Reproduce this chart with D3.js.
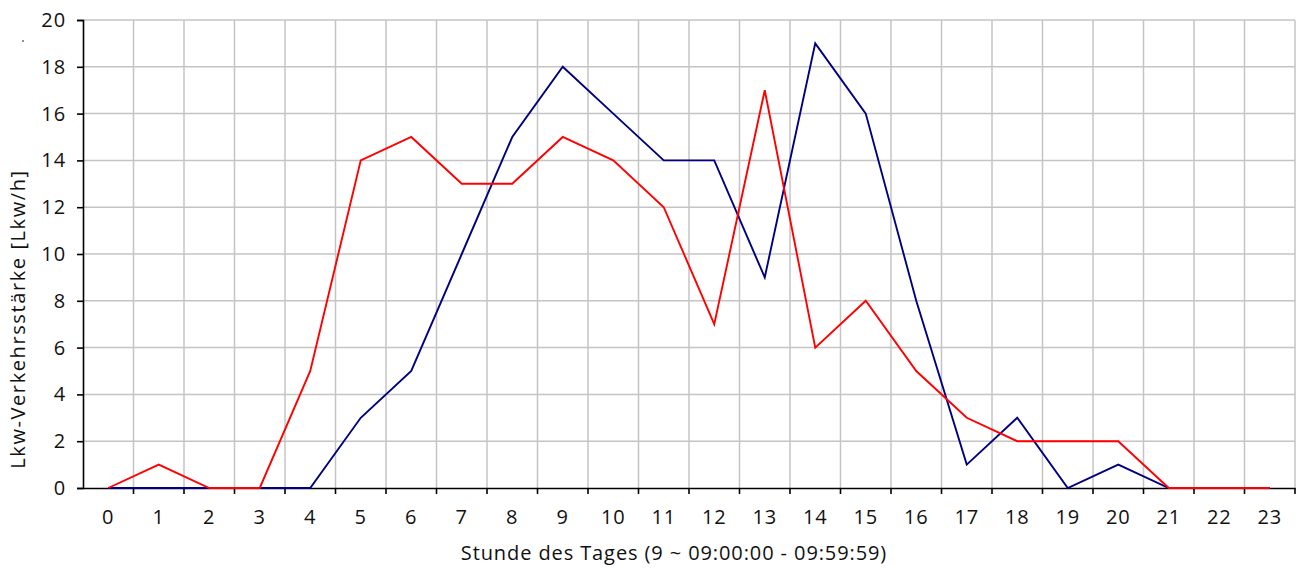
<!DOCTYPE html>
<html>
<head>
<meta charset="utf-8">
<script src="https://cdn.jsdelivr.net/npm/d3@7"></script>
<style>
  body { margin: 0; background: #fff; }
  text { font-family: "Open Sans", sans-serif; fill: #111; letter-spacing: 0.9px; }
</style>
</head>
<body>
<svg width="1304" height="568"></svg>
<script>
var hours = d3.range(0, 24).map(String);
var yTicks = [0, 2, 4, 6, 8, 10, 12, 14, 16, 18, 20];
var redValues = [0, 1, 0, 0, 5, 14, 15, 13, 13, 15, 14, 12, 7, 17, 6, 8, 5, 3, 2, 2, 2, 0, 0, 0];
var blueValues = [0, 0, 0, 0, 0, 3, 5, 10, 15, 18, 16, 14, 14, 9, 19, 16, 8, 1, 3, 0, 1, 0, 0, 0];
var xTitle = "Stunde des Tages (9 ~ 09:00:00 - 09:59:59)";
var yTitle = "Lkw-Verkehrsstärke [Lkw/h]";

var svg = d3.select("svg");
var plotL = 83, plotR = 1295, plotT = 20, plotB = 488;

var x = d3.scaleBand().domain(hours).range([plotL, plotR]);
var y = d3.scaleLinear().domain([0, 20]).range([plotB, plotT]);

// grid
var grid = svg.append("g").attr("stroke", "#c4c4c4").attr("stroke-width", 1.5);
grid.selectAll(".hg").data(yTicks.slice(1)).enter().append("line")
    .attr("x1", plotL).attr("x2", plotR)
    .attr("y1", function(d) { return y(d); }).attr("y2", function(d) { return y(d); });
grid.selectAll(".vg").data(hours.slice(1).concat(["end"])).enter().append("line")
    .attr("x1", function(d) { return d == "end" ? plotR : x(d); })
    .attr("x2", function(d) { return d == "end" ? plotR : x(d); })
    .attr("y1", plotT).attr("y2", plotB);

// y axis
var yAxis = svg.append("g").attr("transform", "translate(" + plotL + ",0)")
    .call(d3.axisLeft(y).tickValues(yTicks).tickSize(6).tickPadding(11));
yAxis.selectAll("text").style("font-size", "20px").attr("fill", "#111");

// x axis
var xAxis = svg.append("g").attr("transform", "translate(0," + plotB + ")")
    .call(d3.axisBottom(x).tickSize(0).tickPadding(22));
xAxis.selectAll("text").style("font-size", "20px").attr("fill", "#111");
xAxis.append("g").selectAll("line")
    .data(hours.slice(1).concat(["end"])).enter().append("line")
    .attr("x1", function(d) { return d == "end" ? plotR : x(d); })
    .attr("x2", function(d) { return d == "end" ? plotR : x(d); })
    .attr("y1", 0).attr("y2", 6).attr("stroke", "#000").attr("stroke-width", 1.6);
svg.selectAll(".domain").attr("stroke", "#000").attr("stroke-width", 1.6);
svg.selectAll(".tick line").attr("stroke", "#000").attr("stroke-width", 1.6);

var line = d3.line()
    .x(function(d, i) { return x(hours[i]) + x.bandwidth() / 2; })
    .y(function(d) { return y(d); });

svg.append("path").datum(blueValues)
    .attr("fill", "none").attr("stroke", "#000080").attr("stroke-width", 1.9)
    .attr("d", line);
svg.append("path").datum(redValues)
    .attr("fill", "none").attr("stroke", "#ff0000").attr("stroke-width", 1.9)
    .attr("d", line);

svg.append("text")
    .attr("x", 674).attr("y", 560)
    .attr("text-anchor", "middle")
    .style("font-size", "20px")
    .text(xTitle);

svg.append("text")
    .attr("transform", "translate(25,319) rotate(-90)")
    .attr("text-anchor", "middle")
    .style("font-size", "20px")
    .style("letter-spacing", "1.6px")
    .text(yTitle);

svg.append("circle").attr("cx", 23).attr("cy", 41).attr("r", 0.8).attr("fill", "#000");
</script>
</body>
</html>
